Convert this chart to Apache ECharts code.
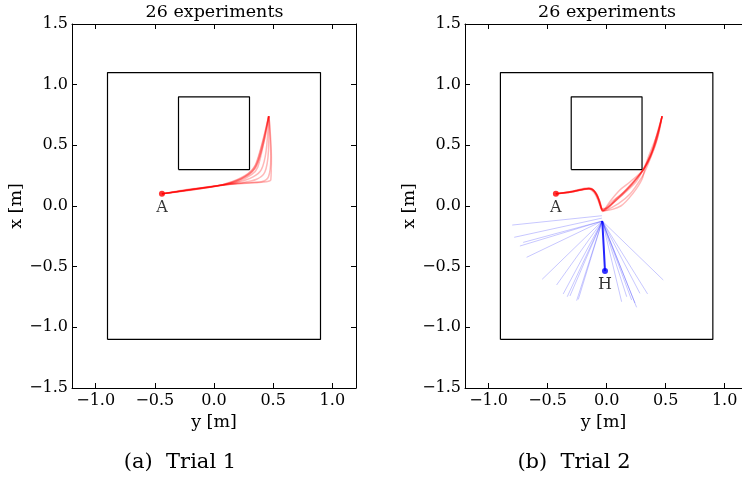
<!DOCTYPE html>
<html lang="en">
<head>
    <meta charset="UTF-8">
    <title>26 experiments</title>
    <script src="https://cdn.jsdelivr.net/npm/echarts@6.0.0/dist/echarts.min.js"></script>
    <style>
        body { margin: 0; background: #fff; overflow: hidden; }
        #main { width: 742px; height: 478px; }
    </style>
</head>
<body>
<div id="main"></div>
<script type="text/javascript">
    // tick labels: horizontal axis is y [m], vertical axis is x [m]
    var yTicks = [-1.0, -0.5, 0.0, 0.5, 1.0];
    var xTicks = [-1.5, -1.0, -0.5, 0.0, 0.5, 1.0, 1.5];

    // arena and obstacle, points are [y, x]
    var outerBox = [[-0.9, -1.1], [0.9, -1.1], [0.9, 1.1], [-0.9, 1.1], [-0.9, -1.1]];
    var obstacle = [[-0.3, 0.3], [0.3, 0.3], [0.3, 0.9], [-0.3, 0.9], [-0.3, 0.3]];

    var pointA1 = [-0.44, 0.1];
    var pointA2 = [-0.43, 0.1];
    var pointH = [-0.014, -0.536];

    // trial 1 red trajectories
    var trial1Paths = [
        [[-0.44, 0.1], [-0.2, 0.135], [0.0, 0.16], [0.15, 0.2], [0.29, 0.27], [0.35, 0.34], [0.41, 0.53], [0.462, 0.74]],
        [[-0.44, 0.1], [-0.2, 0.14], [0.02, 0.165], [0.17, 0.2], [0.3, 0.265], [0.36, 0.33], [0.42, 0.54], [0.462, 0.74]],
        [[-0.44, 0.1], [-0.1, 0.15], [0.05, 0.17], [0.18, 0.2], [0.31, 0.27], [0.37, 0.36], [0.43, 0.56], [0.462, 0.74]],
        [[-0.44, 0.1], [-0.1, 0.145], [0.1, 0.18], [0.2, 0.2], [0.32, 0.26], [0.37, 0.32], [0.42, 0.52], [0.462, 0.74]],
        [[-0.44, 0.1], [0.0, 0.16], [0.16, 0.2], [0.27, 0.25], [0.35, 0.33], [0.41, 0.52], [0.462, 0.74]],
        [[-0.44, 0.1], [0.0, 0.16], [0.2, 0.195], [0.33, 0.24], [0.4, 0.3], [0.44, 0.45], [0.462, 0.74]],
        [[-0.44, 0.1], [0.0, 0.165], [0.22, 0.19], [0.36, 0.22], [0.43, 0.28], [0.46, 0.45], [0.465, 0.74]],
        [[-0.44, 0.1], [0.05, 0.17], [0.25, 0.19], [0.4, 0.2], [0.46, 0.24], [0.48, 0.4], [0.465, 0.74]],
        [[-0.44, 0.1], [0.1, 0.175], [0.3, 0.19], [0.44, 0.2], [0.48, 0.215], [0.485, 0.4], [0.465, 0.74]]
    ];

    // trial 2 red trajectories
    var trial2Paths = [
        [[-0.43, 0.1], [-0.3, 0.115], [-0.15, 0.145], [-0.1, 0.12], [-0.06, 0.04], [-0.035, -0.04], [0.05, 0.02], [0.17, 0.13], [0.31, 0.3], [0.38, 0.44], [0.43, 0.6], [0.47, 0.74]],
        [[-0.43, 0.1], [-0.3, 0.12], [-0.15, 0.15], [-0.11, 0.13], [-0.07, 0.05], [-0.04, -0.03], [0.02, 0.0], [0.12, 0.08], [0.25, 0.2], [0.31, 0.3], [0.4, 0.48], [0.47, 0.74]],
        [[-0.43, 0.1], [-0.28, 0.12], [-0.15, 0.14], [-0.09, 0.1], [-0.05, 0.0], [-0.03, -0.04], [0.1, 0.02], [0.2, 0.1], [0.3, 0.24], [0.34, 0.32], [0.42, 0.52], [0.47, 0.74]],
        [[-0.43, 0.1], [-0.3, 0.115], [-0.14, 0.145], [-0.08, 0.09], [-0.04, -0.02], [0.0, -0.02], [0.08, 0.06], [0.2, 0.16], [0.31, 0.3], [0.36, 0.42], [0.44, 0.62], [0.47, 0.74]],
        [[-0.43, 0.1], [-0.3, 0.12], [-0.16, 0.145], [-0.12, 0.14], [-0.07, 0.06], [-0.03, -0.035], [0.03, 0.04], [0.11, 0.13], [0.2, 0.2], [0.31, 0.3], [0.39, 0.46], [0.47, 0.74]],
        [[-0.43, 0.1], [-0.3, 0.12], [-0.15, 0.14], [-0.1, 0.1], [-0.06, 0.02], [-0.02, -0.04], [0.12, 0.0], [0.22, 0.1], [0.3, 0.22], [0.33, 0.33], [0.43, 0.56], [0.47, 0.74]],
        [[-0.43, 0.1], [-0.29, 0.118], [-0.15, 0.145], [-0.1, 0.115], [-0.055, 0.03], [-0.035, -0.045], [0.06, 0.03], [0.18, 0.15], [0.31, 0.3], [0.37, 0.4], [0.42, 0.57], [0.47, 0.74]],
        [[-0.43, 0.1], [-0.3, 0.115], [-0.15, 0.145], [-0.09, 0.11], [-0.05, 0.01], [-0.035, -0.04], [0.04, 0.03], [0.15, 0.12], [0.3, 0.28], [0.35, 0.36], [0.41, 0.5], [0.47, 0.74]]
    ];

    // trial 2 blue fan: start and end of each run
    var blueHub = [-0.037, -0.124];
    var blueEnds = [
        [-0.8, -0.157], [-0.783, -0.258], [-0.735, -0.33], [-0.707, -0.3], [-0.678, -0.423],
        [-0.546, -0.604], [-0.424, -0.651], [-0.368, -0.725], [-0.334, -0.748], [-0.311, -0.742],
        [-0.254, -0.78], [-0.24, -0.77], [0.127, -0.789], [0.212, -0.775], [0.24, -0.8],
        [0.254, -0.835], [0.282, -0.72], [0.347, -0.725], [0.48, -0.61], [0.17, -0.748]
    ];
    var blueStarts = [[-0.04, -0.08], [-0.04, -0.1]];
    var homePath = [[-0.037, -0.124], [-0.025, -0.33], [-0.014, -0.536]];

    var serif = '"DejaVu Serif", serif';

    function tickText(v) {
        return (v < 0 ? '\u2212' : '') + Math.abs(v).toFixed(1);
    }

    // panel 2 is cut by the page edge, so its y range stops at the edge
    function hAxis(g, pos, max) {
        var main = pos === 'bottom';
        return {
            gridIndex: g, type: 'value', position: pos, min: -1.2, max: max,
            axisLine: {onZero: false, lineStyle: {color: '#000', width: 1}},
            axisTick: {inside: true, length: 5, customValues: yTicks, lineStyle: {color: '#000'}},
            axisLabel: {show: main, customValues: yTicks, formatter: tickText, color: '#000',
                fontFamily: serif, fontSize: 16, margin: 5},
            splitLine: {show: false},
            name: main ? 'y [m]' : '', nameLocation: 'middle', nameGap: 24,
            nameTextStyle: {color: '#000', fontFamily: serif, fontSize: 17.5}
        };
    }

    function vAxis(g, pos, visible) {
        var main = pos === 'left';
        return {
            gridIndex: g, type: 'value', position: pos, min: -1.5, max: 1.5, interval: 0.5,
            show: visible,
            axisLine: {show: visible, onZero: false, lineStyle: {color: '#000', width: 1}},
            axisTick: {show: visible, inside: true, length: 5, customValues: xTicks, lineStyle: {color: '#000'}},
            axisLabel: {show: main, customValues: xTicks, formatter: tickText, color: '#000',
                fontFamily: serif, fontSize: 16, margin: 4},
            splitLine: {show: false},
            name: main ? 'x [m]' : '', nameLocation: 'middle', nameGap: 46, nameRotate: 90,
            nameTextStyle: {color: '#000', fontFamily: serif, fontSize: 17.5}
        };
    }

    function line(g, data, color, width, z, smooth) {
        return {
            type: 'line', xAxisIndex: g * 2, yAxisIndex: g * 2, data: data,
            symbol: 'none', silent: true, animation: false, z: z, smooth: smooth || false,
            lineStyle: {color: color, width: width}
        };
    }

    function marker(g, p, color, text) {
        return {
            type: 'scatter', xAxisIndex: g * 2, yAxisIndex: g * 2, data: [p],
            symbolSize: 6, silent: true, animation: false, z: 10,
            itemStyle: {color: color},
            label: {show: true, position: 'bottom', distance: 3, formatter: text,
                color: '#000', fontFamily: serif, fontSize: 16}
        };
    }

    var series = [];
    [0, 1].forEach(function (g) {
        series.push(line(g, outerBox, '#000', 1.2, 2));
        series.push(line(g, obstacle, '#000', 1.2, 2));
    });
    trial1Paths.forEach(function (p) {
        series.push(line(0, p, 'rgba(255,0,0,0.28)', 1.5, 3, 0.3));
    });
    trial2Paths.forEach(function (p) {
        series.push(line(1, p, 'rgba(255,0,0,0.28)', 1.5, 3, 0.3));
    });
    blueEnds.forEach(function (e, i) {
        var s = i < blueStarts.length ? blueStarts[i] : blueHub;
        series.push(line(1, [s, e], 'rgba(0,0,255,0.22)', 1, 3));
    });
    series.push(line(1, homePath, 'rgba(0,0,255,0.85)', 2, 4));
    series.push(marker(0, pointA1, '#ff0000', 'A'));
    series.push(marker(1, pointA2, '#ff0000', 'A'));
    series.push(marker(1, pointH, '#0000ff', 'H'));

    var myChart = echarts.init(document.getElementById('main'), null, {renderer: 'canvas'});
    var option = {
        backgroundColor: '#fff',
        animation: false,
        grid: [
            {left: 72, top: 24, width: 284, height: 364, outerBoundsMode: 'none'},
            {left: 465, top: 24, width: 277, height: 364, outerBoundsMode: 'none'}
        ],
        xAxis: [hAxis(0, 'bottom', 1.2), hAxis(0, 'top', 1.2), hAxis(1, 'bottom', 1.147), hAxis(1, 'top', 1.147)],
        yAxis: [vAxis(0, 'left', true), vAxis(0, 'right', true), vAxis(1, 'left', true), vAxis(1, 'right', false)],
        graphic: [
            {type: 'text', x: 214.5, y: 12, style: {text: '26 experiments', font: '17.5px ' + serif,
                align: 'center', verticalAlign: 'middle', textAlign: 'center', textVerticalAlign: 'middle', fill: '#000'}},
            {type: 'text', x: 607, y: 12, style: {text: '26 experiments', font: '17.5px ' + serif,
                align: 'center', verticalAlign: 'middle', textAlign: 'center', textVerticalAlign: 'middle', fill: '#000'}},
            {type: 'text', x: 180, y: 463, style: {text: '(a)  Trial 1', font: '21px ' + serif,
                align: 'center', verticalAlign: 'middle', textAlign: 'center', textVerticalAlign: 'middle', fill: '#000'}},
            {type: 'text', x: 574, y: 463, style: {text: '(b)  Trial 2', font: '21px ' + serif,
                align: 'center', verticalAlign: 'middle', textAlign: 'center', textVerticalAlign: 'middle', fill: '#000'}},
            // page edge cuts panel 2's right frame
            {type: 'rect', z: 100, shape: {x: 739, y: 30, width: 10, height: 354}, style: {fill: '#fff'}}
        ],
        series: series
    };
    myChart.setOption(option);
</script>
</body>
</html>
